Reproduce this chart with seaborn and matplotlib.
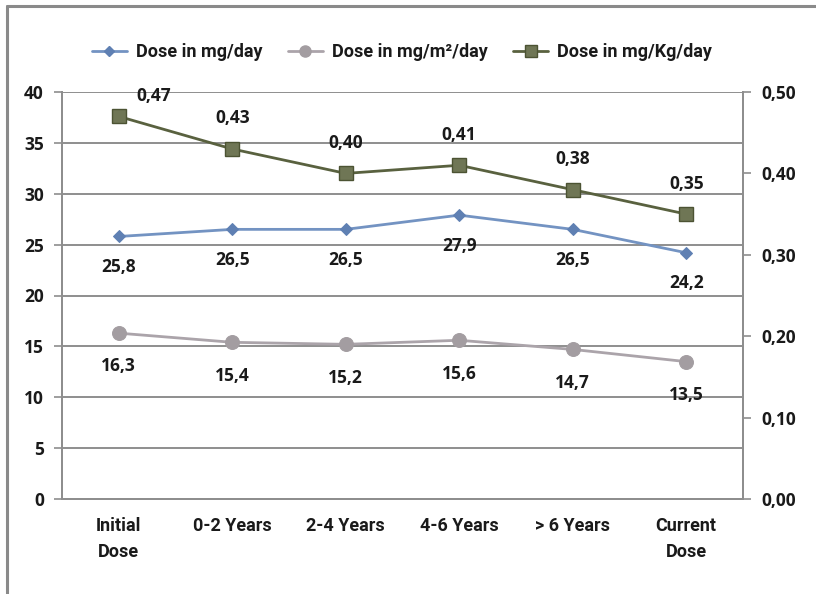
import matplotlib
matplotlib.use("Agg")
import matplotlib.pyplot as plt
from matplotlib import font_manager
from matplotlib.ticker import FuncFormatter, FixedLocator
from matplotlib.lines import Line2D
import seaborn as sns
import pandas as pd

# ---- data ----
categories = ["Initial\nDose", "0-2 Years", "2-4 Years", "4-6 Years", "> 6 Years", "Current\nDose"]
dose_mg_day = [25.8, 26.5, 26.5, 27.9, 26.5, 24.2]
dose_mg_m2_day = [16.3, 15.4, 15.2, 15.6, 14.7, 13.5]
dose_mg_kg_day = [0.47, 0.43, 0.40, 0.41, 0.38, 0.35]
series_names = ["Dose in mg/day", "Dose in mg/m\u00b2/day", "Dose in mg/Kg/day"]
left_ticks = [0, 5, 10, 15, 20, 25, 30, 35, 40]
right_ticks = [0.0, 0.1, 0.2, 0.3, 0.4, 0.5]

sns.set_style("white")

bold_fams = {f.name for f in font_manager.fontManager.ttflist
             if f.weight in ("bold", 700, "700") or (isinstance(f.weight, int) and f.weight >= 600)}
narrow = "Liberation Sans Narrow" if "Liberation Sans Narrow" in bold_fams else "Roboto"
numfont = "Open Sans" if "Open Sans" in bold_fams else "DejaVu Sans"
plt.rcParams["font.family"] = [numfont, "DejaVu Sans"]

C_BLUE_LINE, C_BLUE_MK = "#7393C2", "#5F80B3"
C_GRAY_LINE, C_GRAY_MK = "#ABA4AA", "#A39DA1"
C_GREEN_LINE, C_GREEN_MK, C_GREEN_EDGE = "#59613F", "#6F7655", "#4C5333"
GRID = "#8E8E8E"
TXT = "#1A1A1A"
NUM_SIZE = 12.5

W, H = 816, 594
fig = plt.figure(figsize=(W / 100, H / 100), dpi=100)
fig.patch.set_facecolor("white")

# outer frame: left and top edges
fig.add_artist(Line2D([7 / W, 7 / W], [0, 1 - 6 / H], transform=fig.transFigure,
                      color="#8A8A8A", linewidth=2.2))
fig.add_artist(Line2D([7 / W, 1], [1 - 6 / H, 1 - 6 / H], transform=fig.transFigure,
                      color="#8A8A8A", linewidth=2.2))

ax = fig.add_axes([62 / W, 95 / H, 681 / W, 407 / H])
ax2 = ax.twinx()

x = list(range(len(categories)))
df = pd.DataFrame({"x": x, "mgday": dose_mg_day, "mgm2": dose_mg_m2_day, "mgkg": dose_mg_kg_day})

sns.lineplot(data=df, x="x", y="mgday", ax=ax, color=C_BLUE_LINE, linewidth=2,
             marker="D", markersize=6, markerfacecolor=C_BLUE_MK, markeredgecolor=C_BLUE_MK, zorder=5)
sns.lineplot(data=df, x="x", y="mgm2", ax=ax, color=C_GRAY_LINE, linewidth=2,
             marker="o", markersize=10, markerfacecolor=C_GRAY_MK, markeredgecolor=C_GRAY_MK, zorder=5)
sns.lineplot(data=df, x="x", y="mgkg", ax=ax2, color=C_GREEN_LINE, linewidth=2,
             marker="s", markersize=10, markerfacecolor=C_GREEN_MK, markeredgecolor=C_GREEN_EDGE,
             markeredgewidth=1, zorder=5)

ax.set_xlim(-0.5, len(categories) - 0.5)
ax.set_ylim(0, 40)
ax2.set_ylim(0, 0.5)
ax.set_xlabel("")
ax.set_ylabel("")
ax2.set_ylabel("")

# gridlines
ax.yaxis.set_major_locator(FixedLocator(left_ticks))
ax.grid(axis="y", color=GRID, linewidth=1.4)
ax.grid(axis="x", visible=False)
ax2.grid(False)
ax.set_axisbelow(True)

for a in (ax, ax2):
    for s in a.spines.values():
        s.set_color(GRID)
        s.set_linewidth(1.4)
    a.spines["top"].set_visible(False)

# y ticks
ax.tick_params(axis="y", which="major", length=6, width=1.2, color=GRID, pad=7,
               labelsize=NUM_SIZE, labelcolor=TXT, direction="out")
for t in ax.get_yticklabels():
    t.set_fontweight("bold")
ax2.yaxis.set_major_locator(FixedLocator(right_ticks))
ax2.yaxis.set_major_formatter(FuncFormatter(lambda v, p: f"{v:.2f}".replace(".", ",")))
ax2.tick_params(axis="y", which="major", length=6, width=1.2, color=GRID, pad=7,
                labelsize=NUM_SIZE, labelcolor=TXT, direction="out")
for t in ax2.get_yticklabels():
    t.set_fontweight("bold")

# x ticks: labels at categories, marks at boundaries
ax.set_xticks(x)
ax.set_xticklabels(categories, fontfamily=narrow, fontweight="bold", fontsize=13,
                   color=TXT, va="top", linespacing=1.55)
ax.set_xticks([i - 0.5 for i in range(len(categories) + 1)], minor=True)
ax.tick_params(axis="x", which="major", length=0, pad=13)
ax.tick_params(axis="x", which="minor", length=6, width=1.2, color=GRID, direction="out")

# value labels
def fmt(v, nd):
    return f"{v:.{nd}f}".replace(".", ",")

lab_kw = dict(fontsize=NUM_SIZE, fontweight="bold", color=TXT, ha="center", va="center",
              textcoords="offset points", zorder=6)
for xi, v in zip(x, dose_mg_day):
    ax.annotate(fmt(v, 1), (xi, v), xytext=(0, -22), **lab_kw)
for xi, v in zip(x, dose_mg_m2_day):
    ax.annotate(fmt(v, 1), (xi, v), xytext=(0, -24), **lab_kw)
for xi, v in zip(x, dose_mg_kg_day):
    off = (25, 15) if xi == 0 else (0, 22)
    ax2.annotate(fmt(v, 2), (xi, v), xytext=off, **lab_kw)

# legend
handles = [
    Line2D([], [], color=C_BLUE_LINE, linewidth=2, marker="D", markersize=5,
           markerfacecolor=C_BLUE_MK, markeredgecolor=C_BLUE_MK),
    Line2D([], [], color=C_GRAY_LINE, linewidth=2, marker="o", markersize=8,
           markerfacecolor=C_GRAY_MK, markeredgecolor=C_GRAY_MK),
    Line2D([], [], color=C_GREEN_LINE, linewidth=2, marker="s", markersize=8,
           markerfacecolor=C_GREEN_MK, markeredgecolor=C_GREEN_EDGE),
]
fig.legend(handles, series_names, loc="center", bbox_to_anchor=(402 / W, 1 - 52 / H),
           ncol=3, frameon=False, handlelength=1.95, columnspacing=1.4, handletextpad=0.5,
           prop=dict(family=narrow, weight="bold", size=13), labelcolor=TXT)

fig.savefig("out.png", dpi=100, facecolor="white")
